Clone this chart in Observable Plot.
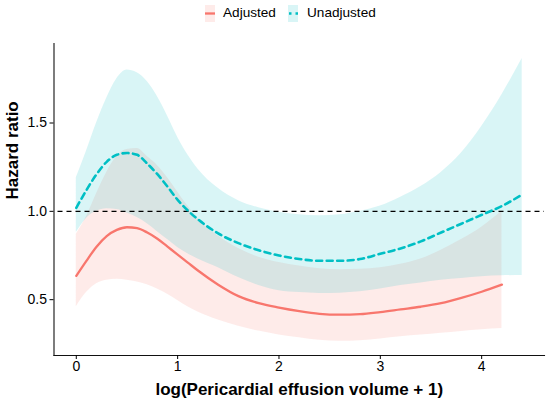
<!DOCTYPE html>
<html>
<head>
<meta charset="utf-8">
<script src="https://cdn.jsdelivr.net/npm/d3@7"></script>
<script src="https://cdn.jsdelivr.net/npm/@observablehq/plot@0.6"></script>
<style>
  html, body { margin: 0; padding: 0; background: white; }
  body { width: 550px; height: 402px; overflow: hidden; font-family: "Liberation Sans", Arial, Helvetica, sans-serif; }
  #legend { position: relative; height: 26px; width: 550px; font-size: 13.6px; color: black; }
  #legend .key { position: absolute; top: 5px; }
  #legend .lab { position: absolute; top: 4px; line-height: 17px; }
</style>
</head>
<body>
<div id="legend"></div>
<div id="chart"></div>
<script>
// ---- data ----
const xVals = [0,0.1,0.2,0.3,0.4,0.5,0.6,0.7,0.8,0.9,1.0,1.1,1.2,1.4,1.6,1.8,2.0,2.2,2.4,2.6,2.8,3.0,3.2,3.4,3.6,3.8,4.0,4.2,4.4];

const unadjHR = [1.02,1.12,1.21,1.28,1.32,1.33,1.32,1.27,1.21,1.14,1.065,1.005,0.955,0.875,0.82,0.78,0.75,0.73,0.72,0.72,0.73,0.76,0.79,0.83,0.88,0.93,0.98,1.03,1.095];
const unadjLo = [0.88,0.96,1.0,1.015,1.01,0.99,0.965,0.93,0.885,0.84,0.795,0.76,0.73,0.68,0.625,0.58,0.55,0.54,0.535,0.537,0.545,0.56,0.58,0.595,0.61,0.62,0.63,0.635,0.637];
const unadjHi = [1.19,1.34,1.50,1.64,1.75,1.80,1.785,1.735,1.65,1.54,1.42,1.32,1.24,1.13,1.06,1.02,0.995,0.98,0.975,0.98,1.0,1.03,1.08,1.14,1.22,1.33,1.48,1.66,1.865];

const adjHR = [0.635,0.72,0.80,0.86,0.895,0.91,0.905,0.88,0.845,0.80,0.755,0.71,0.665,0.585,0.52,0.48,0.455,0.435,0.42,0.415,0.418,0.43,0.445,0.46,0.48,0.51,0.545,0.585];
const adjLo = [0.46,0.54,0.59,0.61,0.615,0.61,0.60,0.585,0.56,0.53,0.495,0.46,0.43,0.385,0.35,0.322,0.30,0.285,0.27,0.265,0.268,0.278,0.29,0.30,0.31,0.32,0.33,0.337];
const adjHi = [0.87,0.97,1.10,1.22,1.31,1.35,1.355,1.31,1.26,1.19,1.11,1.03,0.96,0.86,0.79,0.74,0.71,0.69,0.675,0.67,0.672,0.68,0.70,0.73,0.78,0.84,0.91,1.0];

const xTicks = [0, 1, 2, 3, 4];
const yTicks = [0.5, 1.0, 1.5];
const seriesNames = ["Adjusted", "Unadjusted"];
const xLabel = "log(Pericardial effusion volume + 1)";
const yLabel = "Hazard ratio";
const refValue = [1];

const redC = "#F8766D", cyanC = "#00BFC4";

// ---- rows ----
const adjRows = adjHR.map((v, i) => ({x: xVals[i], hr: v, lo: adjLo[i], hi: adjHi[i]}));
const unadjRows = unadjHR.map((v, i) => ({x: xVals[i], hr: v, lo: unadjLo[i], hi: unadjHi[i]}));

// ---- legend ----
const legend = document.getElementById("legend");
legend.innerHTML = `
  <svg class="key" style="left:205px" width="10" height="17">
    <rect x="0" y="0" width="10" height="17" fill="${redC}" fill-opacity="0.15"></rect>
    <line x1="0" x2="10" y1="8.5" y2="8.5" stroke="${redC}" stroke-width="2.3"></line>
  </svg>
  <span class="lab" style="left:223px">${seriesNames[0]}</span>
  <svg class="key" style="left:288px" width="10" height="17">
    <rect x="0" y="0" width="10" height="17" fill="${cyanC}" fill-opacity="0.15"></rect>
    <line x1="1" x2="10" y1="8.5" y2="8.5" stroke="${cyanC}" stroke-width="2.3" stroke-dasharray="2.5,4"></line>
  </svg>
  <span class="lab" style="left:307px">${seriesNames[1]}</span>
`;

// ---- chart ----
const crv = "monotone-x";
const chart = Plot.plot({
  width: 550,
  height: 376,
  marginTop: 17,
  marginBottom: 47,
  marginLeft: 53.5,
  marginRight: 6,
  style: {fontFamily: "Liberation Sans, Arial, Helvetica, sans-serif", fontSize: "14px", color: "black", background: "white"},
  x: {domain: [-0.22, 4.62]},
  y: {domain: [0.184, 1.95]},
  marks: [
    Plot.areaY(adjRows, {x: "x", y1: "lo", y2: "hi", fill: redC, fillOpacity: 0.15, curve: crv}),
    Plot.areaY(unadjRows, {x: "x", y1: "lo", y2: "hi", fill: cyanC, fillOpacity: 0.15, curve: crv}),
    Plot.ruleY(refValue, {stroke: "black", strokeWidth: 1.1, strokeDasharray: "5,4", strokeDashoffset: -4}),
    Plot.lineY(adjRows, {x: "x", y: "hr", stroke: redC, strokeWidth: 2.3, curve: crv}),
    Plot.lineY(unadjRows, {x: "x", y: "hr", stroke: cyanC, strokeWidth: 2.6, strokeDasharray: "6,4.5", curve: crv}),
    Plot.frame({anchor: "left", stroke: "#111", strokeWidth: 1.1}),
    Plot.frame({anchor: "bottom", stroke: "#111", strokeWidth: 1.1}),
    Plot.axisX({ticks: xTicks, tickFormat: d => String(d), tickSize: 4, tickPadding: 2, label: null, fontSize: 14}),
    Plot.axisY({ticks: yTicks, tickFormat: d3.format(".1f"), tickSize: 4, tickPadding: 3, label: null, fontSize: 14}),
    Plot.text([xLabel], {frameAnchor: "bottom", dy: 34, lineAnchor: "middle", fontWeight: "bold", fontSize: 17, fill: "black"}),
    Plot.text([yLabel], {frameAnchor: "left", dx: -41, rotate: -90, fontWeight: "bold", fontSize: 17, fill: "black"})
  ]
});
document.getElementById("chart").appendChild(chart);
</script>
</body>
</html>
